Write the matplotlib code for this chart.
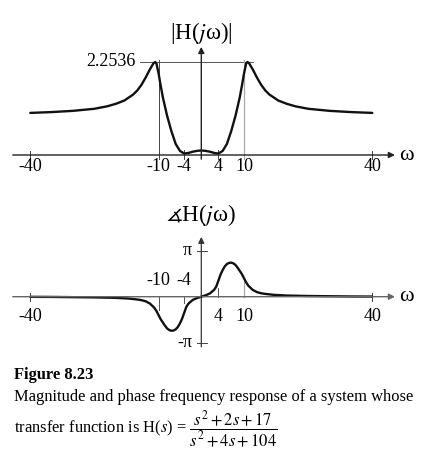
import numpy as np
import matplotlib
matplotlib.use("Agg")
import matplotlib.pyplot as plt

plt.rcParams['font.family'] = ['Liberation Serif', 'DejaVu Serif']
plt.rcParams['mathtext.fontset'] = 'stix'

# ---- data ----
omega_mag = [-40, -35, -30, -25, -22, -20, -18, -16, -15, -14, -13, -12, -11.2, -10.8, -10.5,
             -10, -9.5, -9, -8, -7, -6, -5, -4, -3, -2, -1, 0,
             1, 2, 3, 4, 5, 6, 7, 8, 9, 9.5, 10, 10.5, 10.8, 11.2,
             12, 13, 14, 15, 16, 18, 20, 22, 25, 30, 35, 40]
magnitude = [1.02, 1.04, 1.07, 1.12, 1.18, 1.24, 1.32, 1.46, 1.56, 1.70, 1.88, 2.08, 2.22, 2.2536, 2.22,
             1.98, 1.68, 1.40, 0.95, 0.58, 0.27, 0.10, 0.035, 0.05, 0.08, 0.10, 0.11,
             0.10, 0.08, 0.05, 0.035, 0.10, 0.27, 0.58, 0.95, 1.40, 1.68, 1.98, 2.22, 2.2536, 2.22,
             2.08, 1.88, 1.70, 1.56, 1.46, 1.32, 1.24, 1.18, 1.12, 1.07, 1.04, 1.02]

omega_ph = [-40, -35, -30, -25, -20, -17, -15, -14, -13, -12, -11, -10.5, -10, -9.5, -9, -8.5,
            -8, -7.5, -7, -6.5, -6, -5.5, -5, -4.5, -4, -3.5, -3, -2, -1, 0,
            1, 2, 3, 3.5, 4, 4.5, 5, 5.5, 6, 6.5, 7, 7.5, 8, 8.5, 9, 9.5, 10,
            10.5, 11, 12, 13, 14, 15, 17, 20, 25, 30, 35, 40]
phase_pi = [-0.003, -0.005, -0.01, -0.015, -0.025, -0.04, -0.06, -0.075, -0.10, -0.15, -0.24, -0.31,
            -0.40, -0.49, -0.56, -0.63, -0.69, -0.725, -0.74, -0.735, -0.71, -0.66, -0.58, -0.48,
            -0.35, -0.22, -0.15, -0.07, -0.03, 0.0,
            0.03, 0.07, 0.15, 0.22, 0.35, 0.48, 0.58, 0.66, 0.71, 0.735, 0.74, 0.725, 0.69, 0.63,
            0.56, 0.49, 0.40, 0.31, 0.24, 0.15, 0.10, 0.075, 0.06, 0.04, 0.025, 0.015, 0.01, 0.005, 0.003]

x_ticks = [-40, -10, -4, 4, 10, 40]
peak_label = "2.2536"
peak_value = 2.2536

# ---- layout ----
W, H = 423, 461
fig = plt.figure(figsize=(W / 100, H / 100), dpi=100)

X0, SX = 201.3, 4.275  # pixel of omega=0, px per unit
xlim = ((0 - X0) / SX, (W - X0) / SX)

def add_panel(top_px, bot_px, y0_px, sy):
    ax = fig.add_axes([0, (H - bot_px) / H, 1, (bot_px - top_px) / H])
    ax.set_xlim(*xlim)
    ax.set_ylim((y0_px - bot_px) / sy, (y0_px - top_px) / sy)
    ax.axis('off')
    return ax

TFS = 13      # tick label size
LFS = 16.5    # title size

# Top panel: magnitude
SY1 = 41.27
ax1 = add_panel(0, 175, 155, SY1)
curve = '#111111'
ax1.annotate('', xy=(45.3, 0), xytext=(-44.1, 0),
             arrowprops=dict(arrowstyle='-|>', color='#222222', lw=1.0, mutation_scale=9, shrinkA=0, shrinkB=0))
ax1.annotate('', xy=(0, 2.62), xytext=(0, -0.1),
             arrowprops=dict(arrowstyle='-|>', color='#222222', lw=1.0, mutation_scale=9, shrinkA=0, shrinkB=0))
ax1.plot([-14.3, 12.1], [peak_value, peak_value], color='#555555', lw=0.7)
ax1.plot([-10, -10], [-0.1, 2.30], color='#444444', lw=0.7)
ax1.plot([10, 10], [-0.1, 2.30], color='#aaaaaa', lw=0.9)
for t in [-40, 40]:
    ax1.plot([t, t], [-0.1, 0.1], color='#444444', lw=0.7)
for t in [-4, 4]:
    ax1.plot([t, t], [-0.1, 0.12], color='#444444', lw=0.7)
ax1.plot(omega_mag, magnitude, color=curve, lw=1.7, solid_capstyle='round', solid_joinstyle='round')
for t in x_ticks:
    ax1.text(t, -0.27, str(t), ha='center', va='center', fontsize=TFS)
ax1.text(-15.4, peak_value, peak_label, ha='right', va='center', fontsize=TFS)
ax1.text(47.9, 0, 'ω', ha='center', va='center', fontsize=16)
ax1.text(0, 2.95, '|H($j$ω)|', ha='center', va='center', fontsize=LFS)

# Bottom panel: phase
SY2 = 46.0
ax2 = add_panel(175, 355, 296.7, SY2)
ax2.annotate('', xy=(45.3, 0), xytext=(-44.1, 0),
             arrowprops=dict(arrowstyle='-|>', color='#666666', lw=1.0, mutation_scale=9, shrinkA=0, shrinkB=0))
ax2.annotate('', xy=(0, 1.30), xytext=(0, -1.09),
             arrowprops=dict(arrowstyle='-|>', color='#333333', lw=0.9, mutation_scale=9, shrinkA=0, shrinkB=0))
for v in [1, -1]:
    ax2.plot([-1.07, 1.27], [v, v], color='#444444', lw=0.7)
for t in [-40, 40]:
    ax2.plot([t, t], [-0.09, 0.09], color='#444444', lw=0.7)
ax2.plot([-10, -10], [0, -0.29], color='#555555', lw=0.7)
ax2.plot([-4, -4], [0, -0.14], color='#555555', lw=0.7)
ax2.plot([4, 4], [0, 0.2], color='#555555', lw=0.7)
ax2.plot([10, 10], [0, 0.35], color='#aaaaaa', lw=0.9)
ax2.plot(omega_ph, phase_pi, color=curve, lw=1.7, solid_capstyle='round', solid_joinstyle='round')
for t in [-40, 4, 10, 40]:
    ax2.text(t, -0.43, str(t), ha='center', va='center', fontsize=TFS)
for t in [-10, -4]:
    ax2.text(t, 0.36, str(t), ha='center', va='center', fontsize=TFS)
ax2.text(-3.3, 1.0, 'π', ha='center', va='center', fontsize=TFS)
ax2.text(-2.1, -1.0, '-π', ha='right', va='center', fontsize=TFS)
ax2.text(47.9, 0, 'ω', ha='center', va='center', fontsize=16)
ax2.text(0, 1.77, '$\\measuredangle$H($j$ω)', ha='center', va='center', fontsize=LFS)

# Caption
CFS = 11.9
fig.text(14 / W, 1 - 375 / H, 'Figure 8.23', ha='left', va='center', fontsize=CFS, fontweight='bold')
fig.text(14 / W, 1 - 397 / H, 'Magnitude and phase frequency response of a system whose',
         ha='left', va='center', fontsize=CFS)
fig.text(14 / W, 1 - 429 / H, 'transfer function is H($s$) = $\\dfrac{s^2+2s+17}{s^2+4s+104}$',
         ha='left', va='center', fontsize=CFS)

fig.savefig('out.png', dpi=100, facecolor='white')
